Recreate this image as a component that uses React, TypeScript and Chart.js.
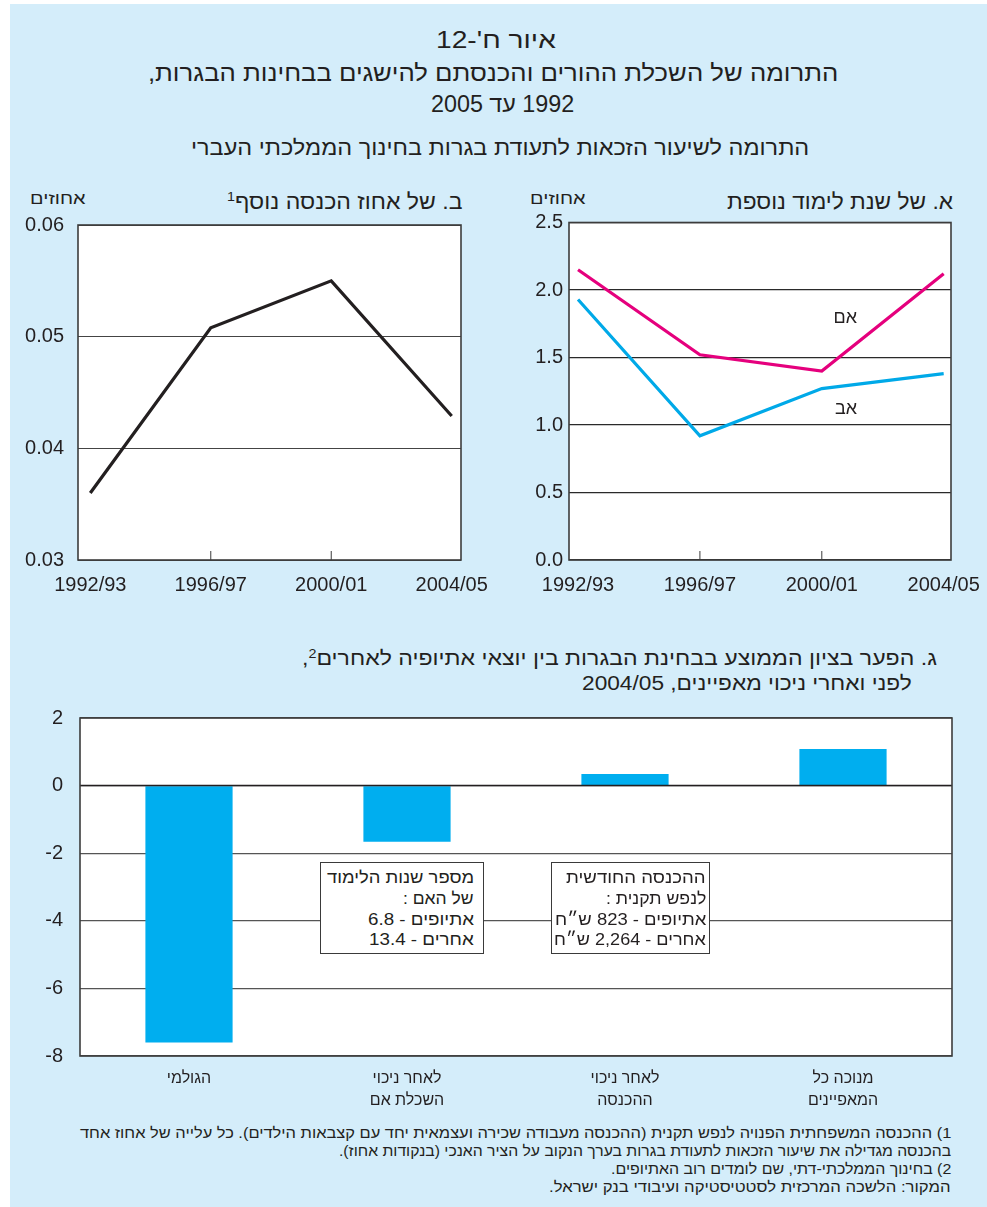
import React, { useEffect, useLayoutEffect, useRef } from 'react';
import { Chart, registerables } from 'chart.js';

Chart.register(...registerables);

const PAGE_W = 987;
const PAGE_H = 1207;
const TEXT = '#231f20';
const PANEL = '#d4edfa';
const FONT = "'Liberation Sans', 'DejaVu Sans', Arial, sans-serif";

// ---- data ----
const years = ['1992/93', '1996/97', '2000/01', '2004/05'];
const motherValues = [2.15, 1.52, 1.4, 2.12];
const fatherValues = [1.93, 0.92, 1.27, 1.38];
const incomeValues = [0.036, 0.0508, 0.055, 0.0429];
const gapCategories = [
  ['הגולמי'],
  ['לאחר ניכוי', 'השכלת אם'],
  ['לאחר ניכוי', 'ההכנסה'],
  ['מנוכה כל', 'המאפיינים'],
];
const gapValues = [-7.6, -1.66, 0.34, 1.08];
const innerTickYears = [1, 2];

Chart.defaults.font.family = FONT;
Chart.defaults.color = TEXT;

const framePlugin = {
  id: 'frame',
  beforeDraw(chart: any) {
    const { ctx, chartArea: a } = chart;
    ctx.save();
    ctx.fillStyle = '#ffffff';
    ctx.fillRect(a.left, a.top, a.right - a.left, a.bottom - a.top);
    ctx.restore();
  },
  afterDatasetsDraw(chart: any, _args: any, opts: any) {
    if (!opts || !opts.zeroLine) return;
    const { ctx, chartArea: a } = chart;
    const y = chart.scales.y.getPixelForValue(0);
    ctx.save();
    ctx.strokeStyle = TEXT;
    ctx.lineWidth = 1.5;
    ctx.beginPath();
    ctx.moveTo(a.left, y);
    ctx.lineTo(a.right, y);
    ctx.stroke();
    ctx.restore();
  },
  afterDraw(chart: any, _args: any, opts: any) {
    const { ctx, chartArea: a } = chart;
    ctx.save();
    ctx.strokeStyle = '#3c3c3c';
    ctx.lineWidth = 1.6;
    ctx.strokeRect(a.left, a.top, a.right - a.left, a.bottom - a.top);
    const ticks: number[] = (opts && opts.innerTicks) || [];
    ctx.lineWidth = 1;
    ticks.forEach((v) => {
      const x = chart.scales.x.getPixelForValue(v);
      ctx.beginPath();
      ctx.moveTo(x, a.bottom);
      ctx.lineTo(x, a.bottom - 9);
      ctx.stroke();
    });
    ctx.restore();
  },
};

function fixX(height: number) {
  return (scale: any) => {
    scale.height = height;
    scale.paddingLeft = 0;
    scale.paddingRight = 0;
  };
}

function fixY(width: number) {
  return (scale: any) => {
    scale.width = width;
    scale.paddingTop = 0;
    scale.paddingBottom = 0;
  };
}

function yearAxis(min: number, max: number) {
  return {
    type: 'linear',
    min,
    max,
    afterBuildTicks(axis: any) {
      axis.ticks = years.map((_, i) => ({ value: i }));
    },
    afterFit: fixX(50),
    ticks: {
      callback: (v: any) => years[v],
      font: { size: 20 },
      color: TEXT,
      padding: 13,
      maxRotation: 0,
      autoSkip: false,
    },
    grid: { display: false, drawTicks: false },
    border: { display: false },
  };
}

function configA(): any {
  return {
    type: 'line',
    data: {
      datasets: [
        {
          data: years.map((_, i) => ({ x: i, y: motherValues[i] })),
          borderColor: '#e5007d',
          borderWidth: 3.2,
          pointRadius: 0,
          borderJoinStyle: 'miter',
          tension: 0,
        },
        {
          data: years.map((_, i) => ({ x: i, y: fatherValues[i] })),
          borderColor: '#00a9e8',
          borderWidth: 3.2,
          pointRadius: 0,
          borderJoinStyle: 'miter',
          tension: 0,
        },
      ],
    },
    options: {
      responsive: false,
      animation: false,
      layout: { padding: { top: 12.5, right: 36, left: 0, bottom: 0 } },
      plugins: { legend: { display: false }, tooltip: { enabled: false }, frame: { innerTicks: innerTickYears } },
      scales: {
        x: yearAxis(-0.074, 3.06),
        y: {
          min: 0,
          max: 2.5,
          afterFit: fixY(69),
          ticks: { stepSize: 0.5, callback: (v: any) => Number(v).toFixed(1), font: { size: 20 }, color: TEXT, padding: 6 },
          grid: { color: '#2a2a2a', lineWidth: 1.2, drawTicks: false },
          border: { display: false },
        },
      },
    },
    plugins: [framePlugin],
  };
}

function configB(): any {
  return {
    type: 'line',
    data: {
      datasets: [
        {
          data: years.map((_, i) => ({ x: i, y: incomeValues[i] })),
          borderColor: TEXT,
          borderWidth: 3.2,
          pointRadius: 0,
          borderJoinStyle: 'miter',
          tension: 0,
        },
      ],
    },
    options: {
      responsive: false,
      animation: false,
      layout: { padding: { top: 15, right: 39, left: 0, bottom: 0 } },
      plugins: { legend: { display: false }, tooltip: { enabled: false }, frame: { innerTicks: innerTickYears } },
      scales: {
        x: yearAxis(-0.102, 3.077),
        y: {
          min: 0.03,
          max: 0.06,
          afterFit: fixY(78),
          ticks: { stepSize: 0.01, callback: (v: any) => Number(v).toFixed(2), font: { size: 20 }, color: TEXT, padding: 14 },
          grid: { color: '#444444', lineWidth: 1, drawTicks: false },
          border: { display: false },
        },
      },
    },
    plugins: [framePlugin],
  };
}

function configC(): any {
  return {
    type: 'bar',
    data: {
      labels: gapCategories,
      datasets: [
        {
          data: gapValues,
          backgroundColor: '#00aeef',
          borderWidth: 0,
          barPercentage: 0.4,
          categoryPercentage: 1.0,
        },
      ],
    },
    options: {
      responsive: false,
      animation: false,
      layout: { padding: { top: 18, right: 35, left: 0, bottom: 0 } },
      plugins: { legend: { display: false }, tooltip: { enabled: false }, frame: { zeroLine: true } },
      scales: {
        x: {
          afterFit: fixX(64),
          ticks: { font: { size: 16, lineHeight: 1.375 }, color: TEXT, padding: 12, maxRotation: 0, autoSkip: false },
          grid: { display: false, drawTicks: false },
          border: { display: false },
        },
        y: {
          min: -8,
          max: 2,
          afterFit: fixY(80),
          ticks: { stepSize: 2, font: { size: 20 }, color: TEXT, padding: 17 },
          grid: { color: '#555555', lineWidth: 1.2, drawTicks: false },
          border: { display: false },
        },
      },
    },
    plugins: [framePlugin],
  };
}

type TProps = { right: number; cy: number; width: number; size: number; children: React.ReactNode };

function FitText({ right, cy, width, size, children }: TProps) {
  const ref = useRef<HTMLSpanElement>(null);
  useLayoutEffect(() => {
    const el = ref.current;
    if (!el) return;
    el.style.transform = 'none';
    const w = el.offsetWidth;
    if (w > 0) {
      const k = Math.min(1.4, Math.max(0.6, width / w));
      el.style.transform = `scaleX(${k})`;
    }
  }, [width]);
  return (
    <div
      dir="rtl"
      style={{
        position: 'absolute',
        right: PAGE_W - right,
        top: cy - size * 0.6,
        fontSize: size,
        lineHeight: `${size * 1.2}px`,
        whiteSpace: 'nowrap',
        color: TEXT,
      }}
    >
      <span ref={ref} style={{ display: 'inline-block', transformOrigin: '100% 50%' }}>
        {children}
      </span>
    </div>
  );
}

const Sup = ({ children }: { children: React.ReactNode }) => (
  <span style={{ fontSize: '0.62em', position: 'relative', top: '-0.55em' }}>{children}</span>
);

export default function App() {
  const refA = useRef<HTMLCanvasElement>(null);
  const refB = useRef<HTMLCanvasElement>(null);
  const refC = useRef<HTMLCanvasElement>(null);

  useEffect(() => {
    const charts: Chart[] = [];
    if (refA.current) charts.push(new Chart(refA.current, configA()));
    if (refB.current) charts.push(new Chart(refB.current, configB()));
    if (refC.current) charts.push(new Chart(refC.current, configC()));
    return () => charts.forEach((c) => c.destroy());
  }, []);

  const boxStyle = (left: number, width: number): React.CSSProperties => ({
    position: 'absolute',
    left,
    top: 862,
    width,
    height: 92,
    boxSizing: 'border-box',
    border: '1px solid #3a3a3a',
    background: '#ffffff',
  });

  return (
    <div
      style={{
        position: 'absolute',
        left: 0,
        top: 0,
        width: PAGE_W,
        height: PAGE_H,
        background: '#ffffff',
        fontFamily: FONT,
        color: TEXT,
        overflow: 'hidden',
      }}
    >
      <div style={{ position: 'absolute', left: 10, top: 4, right: 0, bottom: 0, background: PANEL }} />

      {/* main titles */}
      <FitText right={556} cy={41} width={120} size={23}>איור ח'-12</FitText>
      <FitText right={838} cy={74} width={690} size={23}>התרומה של השכלת ההורים והכנסתם להישגים בבחינות הבגרות,</FitText>
      <FitText right={574} cy={105} width={143} size={23}>1992 עד 2005</FitText>
      <FitText right={809} cy={148} width={618} size={21}>התרומה לשיעור הזכאות לתעודת בגרות בחינוך הממלכתי העברי</FitText>

      {/* panel titles */}
      <FitText right={953} cy={202} width={226} size={22}>א. של שנת לימוד נוספת</FitText>
      <FitText right={586} cy={199} width={56} size={16}>אחוזים</FitText>
      <FitText right={463} cy={202} width={236} size={22}>
        ב. של אחוז הכנסה נוסף<Sup>1</Sup>
      </FitText>
      <FitText right={86} cy={199} width={56} size={16}>אחוזים</FitText>

      <canvas ref={refB} width={500} height={400} style={{ position: 'absolute', left: 0, top: 210 }} />
      <canvas ref={refA} width={487} height={400} style={{ position: 'absolute', left: 500, top: 210 }} />

      <FitText right={857} cy={318} width={24} size={18}>אם</FitText>
      <FitText right={857} cy={409} width={22} size={18}>אב</FitText>

      {/* chart C title */}
      <FitText right={937} cy={658} width={635} size={20}>
        ג. הפער בציון הממוצע בבחינת הבגרות בין יוצאי אתיופיה לאחרים<Sup>2</Sup>,
      </FitText>
      <FitText right={912} cy={683} width={330} size={20}>לפני ואחרי ניכוי מאפיינים, 2004/05</FitText>

      <canvas ref={refC} width={987} height={420} style={{ position: 'absolute', left: 0, top: 700 }} />

      {/* annotation boxes */}
      <div style={boxStyle(320, 164)} />
      <div style={boxStyle(551, 159)} />
      <FitText right={474} cy={878} width={147} size={17}>מספר שנות הלימוד</FitText>
      <FitText right={474} cy={899} width={71} size={17}>של האם :</FitText>
      <FitText right={474} cy={920} width={106} size={17}>אתיופים - 6.8</FitText>
      <FitText right={474} cy={940} width={105} size={17}>אחרים - 13.4</FitText>
      <FitText right={706} cy={878} width={140} size={17}>ההכנסה החודשית</FitText>
      <FitText right={706} cy={899} width={100} size={17}>לנפש תקנית :</FitText>
      <FitText right={706} cy={920} width={151} size={17}>אתיופים - 823 ש״ח</FitText>
      <FitText right={706} cy={940} width={152} size={17}>אחרים - 2,264 ש״ח</FitText>

      {/* footnotes */}
      <FitText right={951} cy={1133} width={871} size={15}>
        1) ההכנסה המשפחתית הפנויה לנפש תקנית (ההכנסה מעבודה שכירה ועצמאית יחד עם קצבאות הילדים). כל עלייה של אחוז אחד
      </FitText>
      <FitText right={951} cy={1151} width={612} size={15}>
        בהכנסה מגדילה את שיעור הזכאות לתעודת בגרות בערך הנקוב על הציר האנכי (בנקודות אחוז).
      </FitText>
      <FitText right={951} cy={1169} width={340} size={15}>2) בחינוך הממלכתי-דתי, שם לומדים רוב האתיופים.</FitText>
      <FitText right={951} cy={1187} width={402} size={15}>המקור: הלשכה המרכזית לסטטיסטיקה ועיבודי בנק ישראל.</FitText>
    </div>
  );
}
